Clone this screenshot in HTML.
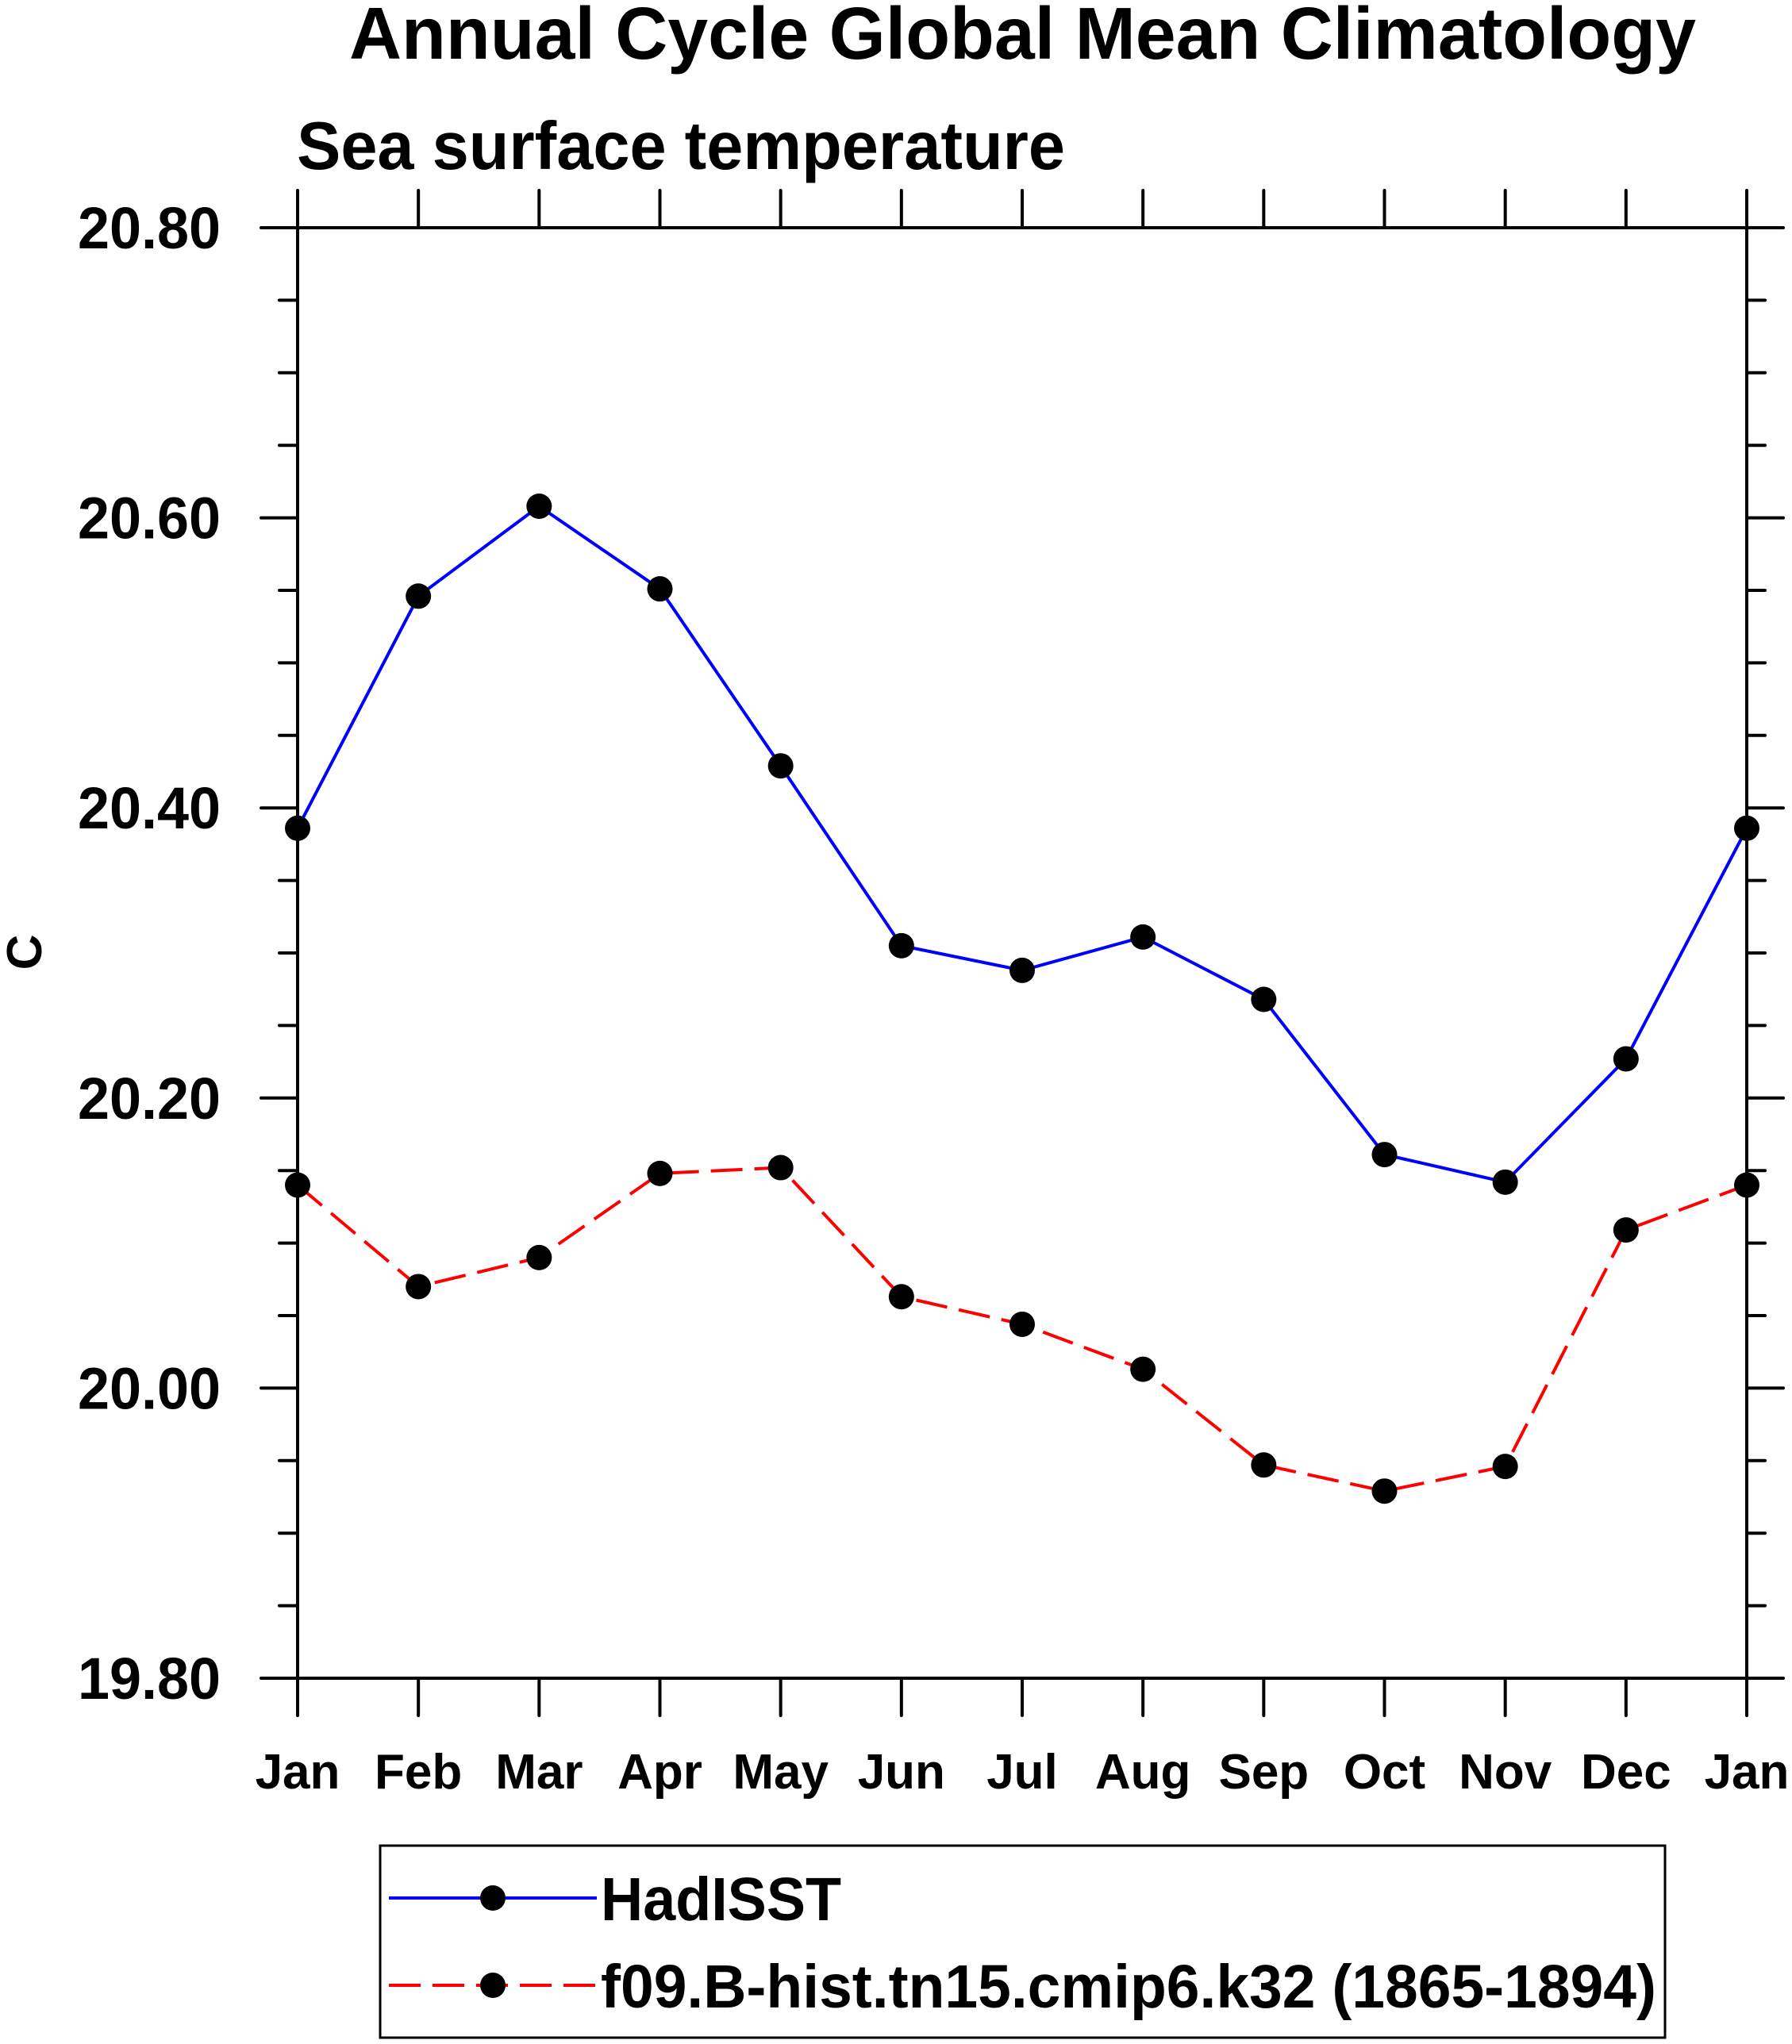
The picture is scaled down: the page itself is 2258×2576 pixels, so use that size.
<!DOCTYPE html>
<html><head><meta charset="utf-8"><style>
html,body{margin:0;padding:0;background:#fff;}
svg{display:block;}
text{font-family:"Liberation Sans",Arial,sans-serif;font-weight:bold;fill:#000;}
</style></head><body>
<svg width="2258" height="2576" viewBox="0 0 2258 2576" xmlns="http://www.w3.org/2000/svg">
<text x="440" y="74" font-size="93" textLength="1697" lengthAdjust="spacingAndGlyphs">Annual Cycle Global Mean Climatology</text>
<text x="374" y="213" font-size="85" textLength="968" lengthAdjust="spacingAndGlyphs">Sea surface temperature</text>
<g stroke="#000" stroke-width="4" fill="none" stroke-linecap="round">
<rect x="375" y="287" width="1826" height="1828"/>
</g>
<g id="tg" stroke="#000" stroke-width="4" stroke-linecap="round"></g>
<g id="lbl"></g>
<text x="0" y="0" font-size="62" text-anchor="middle" transform="translate(52,1200) rotate(-90)">C</text>
<polyline id="had" fill="none" stroke="#0000ff" stroke-width="4"/>
<polyline id="mod" fill="none" stroke="#ff0000" stroke-width="4" stroke-dasharray="40,15"/>
<g id="mk"></g>
<rect x="479" y="2326" width="1619" height="242" fill="none" stroke="#000" stroke-width="3"/>
<line x1="490" y1="2392" x2="752" y2="2392" stroke="#0000ff" stroke-width="4"/>
<circle cx="621" cy="2392" r="16" fill="#000"/>
<text x="757" y="2420" font-size="77" textLength="303" lengthAdjust="spacingAndGlyphs">HadISST</text>
<line x1="490" y1="2502" x2="752" y2="2502" stroke="#ff0000" stroke-width="4" stroke-dasharray="40,15"/>
<circle cx="621" cy="2502" r="16" fill="#000"/>
<text x="757" y="2530" font-size="77" textLength="1330" lengthAdjust="spacingAndGlyphs">f09.B-hist.tn15.cmip6.k32 (1865-1894)</text>
</svg>
<script>
var ns="http://www.w3.org/2000/svg";
var L=375,R=2201,T=287,B=2115;
function X(i){return L+i*(R-L)/12;}
function Y(v){return B-(v-19.8)*(B-T);}
var tg=document.getElementById('tg'),lb=document.getElementById('lbl');
function ln(a,b,c,d){var e=document.createElementNS(ns,'line');e.setAttribute('x1',a);e.setAttribute('y1',b);e.setAttribute('x2',c);e.setAttribute('y2',d);tg.appendChild(e);}
function tx(x,y,s,fs,an){var e=document.createElementNS(ns,'text');e.setAttribute('x',x);e.setAttribute('y',y);e.setAttribute('font-size',fs);e.setAttribute('text-anchor',an);e.textContent=s;lb.appendChild(e);return e;}
var m=["Jan","Feb","Mar","Apr","May","Jun","Jul","Aug","Sep","Oct","Nov","Dec","Jan"];
for(var i=0;i<=12;i++){var x=X(i);ln(x,B,x,B+47);ln(x,T,x,T-47);tx(x,2254,m[i],62,'middle');}
for(var k=0;k<=20;k++){var v=19.8+k*0.05,y=Y(v);var maj=(k%4==0);var l=maj?46:23;ln(L,y,L-l,y);ln(R,y,R+l,y);if(maj){var t=tx(278,y+26,v.toFixed(2),74,'end');t.setAttribute('textLength',180);t.setAttribute('lengthAdjust','spacingAndGlyphs');}}
var h=[20.386,20.546,20.608,20.551,20.429,20.305,20.288,20.311,20.268,20.161,20.142,20.227,20.386];
var md=[20.140,20.070,20.090,20.148,20.152,20.063,20.044,20.013,19.947,19.929,19.946,20.109,20.140];
function pts(a){return a.map(function(v,i){return X(i)+','+Y(v);}).join(' ');}
document.getElementById('had').setAttribute('points',pts(h));
document.getElementById('mod').setAttribute('points',pts(md));
var mk=document.getElementById('mk');
[h,md].forEach(function(a){a.forEach(function(v,i){var c=document.createElementNS(ns,'circle');c.setAttribute('cx',X(i));c.setAttribute('cy',Y(v));c.setAttribute('r',16);c.setAttribute('fill','#000');mk.appendChild(c);});});
</script>
</body></html>
